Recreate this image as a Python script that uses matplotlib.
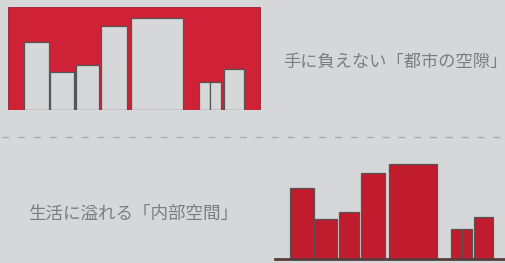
import matplotlib
matplotlib.use("Agg")
import matplotlib.pyplot as plt
from matplotlib.patches import Rectangle

#-------data (pixel units)-------
top_left = [24, 50, 76.3, 101.3, 131.3, 199.3, 210, 224.3]
top_width = [24.7, 24.3, 22.4, 25.4, 51.7, 10.7, 11.3, 19.7]
top_height = [68.3, 38.3, 44.7, 83.7, 92.3, 28.3, 28.3, 40.7]

bottom_left = [290.3, 314.3, 339, 361.3, 389, 451.3, 461.7, 474]
bottom_width = [23.4, 22.7, 20.3, 24, 47.7, 10.4, 10.6, 18.7]
bottom_height = [71, 40, 47, 86.6, 95, 30, 30, 42.6]

top_label = "手に負えない「都市の空隙」"
bottom_label = "生活に溢れる「内部空間」"

#-------style-------
bg = "#d6d7d9"
red_top = "#d02236"
red_bottom = "#c01c2e"
edge = "#555555"
textcolor = "#7d7d7d"
plt.rcParams['font.family'] = ['Noto Sans CJK JP', 'DejaVu Sans']

W, H = 506, 263
fig = plt.figure(figsize=(W / 100, H / 100), dpi=100)
fig.patch.set_facecolor(bg)
ax = fig.add_axes([0, 0, 1, 1])
ax.set_xlim(0, W)
ax.set_ylim(0, H)
ax.set_facecolor(bg)
ax.axis("off")

# top block: red mass with buildings cut out
top_base = H - 110
ax.add_patch(Rectangle((8, top_base), 252, 103, facecolor=red_top,
                       edgecolor="#9a2030", linewidth=0.6, zorder=1))
ax.bar(top_left, top_height, width=top_width, bottom=top_base, align="edge",
       color=bg, edgecolor=edge, linewidth=0.9, zorder=2)
# hide bar bottoms below the red block
ax.add_patch(Rectangle((0, top_base - 6), 270, 6, facecolor=bg,
                       edgecolor="none", zorder=3))

ax.text(283, H - 62, top_label, fontsize=12.4, color=textcolor,
        ha="left", va="center")

# separator
ax.plot([2, 504], [H - 136.7, H - 136.7], color="#ababab", linewidth=1,
        linestyle=(0, (5, 6.4)))

# bottom block: buildings as red bars
bottom_base = H - 259.3
ax.bar(bottom_left, bottom_height, width=bottom_width, bottom=bottom_base,
       align="edge", color=red_bottom, edgecolor=edge, linewidth=0.9, zorder=2)
ax.plot([275.5, 506], [bottom_base, bottom_base], color="#5a3c3e",
        linewidth=2, zorder=3)

ax.text(28, H - 213.5, bottom_label, fontsize=12.65, color=textcolor,
        ha="left", va="center")

fig.savefig("out.png", dpi=100, facecolor=bg)
